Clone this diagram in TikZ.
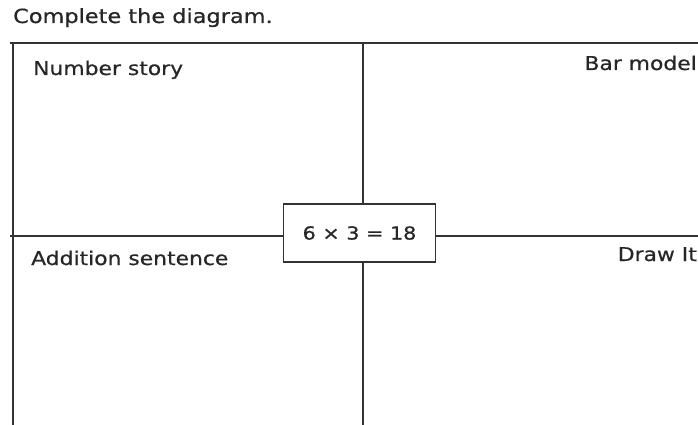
\documentclass[tikz,border=0pt]{standalone}
\usepackage{fontspec}
\setmainfont{DejaVu Sans}[FakeStretch=1.15, FakeBold=0.6]
\usetikzlibrary{positioning}

\begin{document}
\begin{tikzpicture}[
    x=1pt, y=-1pt,
    gridline/.style={draw=black!80, line width=1.4pt},
    prodbox/.style={
        draw=black!80, line width=1.4pt, fill=white,
        minimum width=152pt, minimum height=58pt, inner sep=0pt,
        font=\fontsize{18}{21}\selectfont, text=black!85
    },
    cornerlbl/.style={font=\fontsize{19}{22}\selectfont, text=black!85, inner sep=0pt},
    title/.style={font=\fontsize{19.5}{22}\selectfont, text=black!85, inner sep=0pt},
]

\useasboundingbox (0,0) rectangle (698,425);

% Frame coordinates
\def\fl{13}
\def\ft{43}
\def\fm{236}
\def\cx{359.5}

% ====== TITLE ======
\node[title, anchor=base west] (ttl) at (\fl, 23) {Complete the diagram.};

% ====== FRAME ======
\coordinate (tl) at (\fl-3, \ft);
\coordinate (tr) at (698, \ft);
\coordinate (bl) at (\fl, 425);
\coordinate (tlv) at (\fl, \ft);
\coordinate (ml) at (\fl-3, \fm);
\coordinate (mr) at (698, \fm);
\coordinate (tm) at (363, \ft);
\coordinate (bm) at (363, 425);

\draw[gridline] (tl) -- (tr);
\draw[gridline] (tlv) -- (bl);

% ====== CENTRE BOX ======
\node[prodbox] (prod) at (\cx, 233) {6 × 3 = 18};

\draw[gridline] (tm) -- (tm |- prod.north);
\draw[gridline] (bm |- prod.south) -- (bm);
\draw[gridline] (ml) -- (ml -| prod.west);
\draw[gridline] (mr -| prod.east) -- (mr);

% ====== CORNER LABELS ======
\node[cornerlbl, anchor=base west] (story) at (33, 75) {Number story};
\node[cornerlbl, anchor=base east] (bar) at (697, 70) {Bar model};
\node[cornerlbl, anchor=base west] (addn) at (31, 265) {Addition sentence};
\node[cornerlbl, anchor=base east] (draw) at (697, 261) {Draw It};

\end{tikzpicture}
\end{document}
